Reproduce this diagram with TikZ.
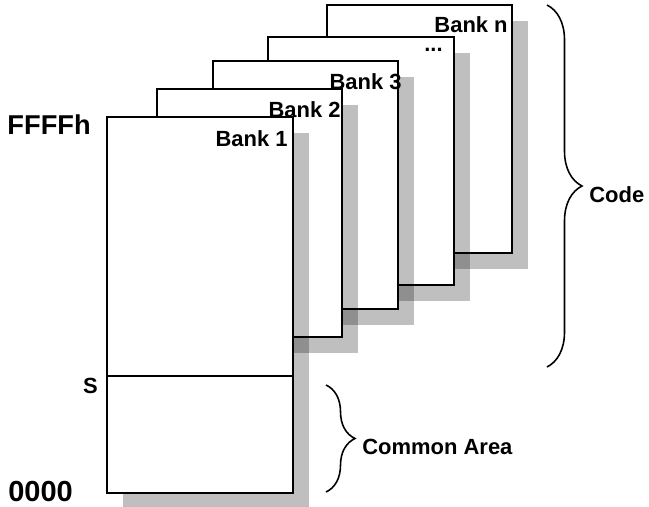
\documentclass[tikz,border=0pt]{standalone}
\usepackage{fontspec}
\setmainfont{Liberation Sans}
\usetikzlibrary{decorations.pathreplacing}

\begin{document}
\begin{tikzpicture}[x=0.02cm, y=0.02cm,
  bankbox/.style={draw=black, fill=white, line width=1pt},
  shadowbox/.style={fill=black, fill opacity=0.25},
  banklabel/.style={inner sep=0pt, anchor=base east, font=\fontsize{12.5}{15}\selectfont\bfseries},
  addrlabel/.style={inner sep=0pt, font=\fontsize{15.5}{18}\selectfont\bfseries},
  sidelabel/.style={inner sep=0pt, anchor=base west, font=\fontsize{12.5}{15}\selectfont\bfseries},
  bracket/.style={decorate, decoration={brace, amplitude=#1}, line width=0.9pt}]
  \useasboundingbox (0,0) rectangle (649,507);
  % banks, back to front, each with its drop shadow
  \fill[shadowbox] (343,238) rectangle (528,486);
  \draw[bankbox] (327,254) rectangle (512,502);
  \node[banklabel] (bankn) at (508,474) {Bank n};
  \fill[shadowbox] (284,206) rectangle (470,454);
  \draw[bankbox] (268,222) rectangle (454,470);
  \node[banklabel] (bankdots) at (443,455) {...};
  \fill[shadowbox] (229,182) rectangle (414,430);
  \draw[bankbox] (213,198) rectangle (398,446);
  \node[banklabel] (bank3) at (402,417) {Bank 3};
  \fill[shadowbox] (173,154) rectangle (358,402);
  \draw[bankbox] (157,170) rectangle (342,418);
  \node[banklabel] (bank2) at (341,389) {Bank 2};
  \fill[shadowbox] (123,-2) rectangle (309,374);
  \draw[bankbox] (107,14) rectangle (293,390);
  \draw[line width=0.8pt] (107,131) -- (293,131);
  \node[banklabel] (bank1) at (288,360) {Bank 1};
  % address marks
  \node[addrlabel, anchor=base east] (top) at (91,372) {FFFFh};
  \node[sidelabel, anchor=base east] (split) at (98,113) {S};
  \node[addrlabel, anchor=base west, font=\fontsize{16.5}{18}\selectfont\bfseries] (bottom) at (8,6) {0000};
  % braces
  \coordinate (codetop) at (547,502);
  \coordinate (codebot) at (547,140);
  \draw[bracket=0.7cm] (codetop) -- (codebot);
  \node[sidelabel] (code) at (589,304) {Code};
  \coordinate (commontop) at (326,122);
  \coordinate (commonbot) at (326,15);
  \draw[bracket=0.58cm] (commontop) -- (commonbot);
  \node[sidelabel] (common) at (362,52) {Common Area};
\end{tikzpicture}
\end{document}
